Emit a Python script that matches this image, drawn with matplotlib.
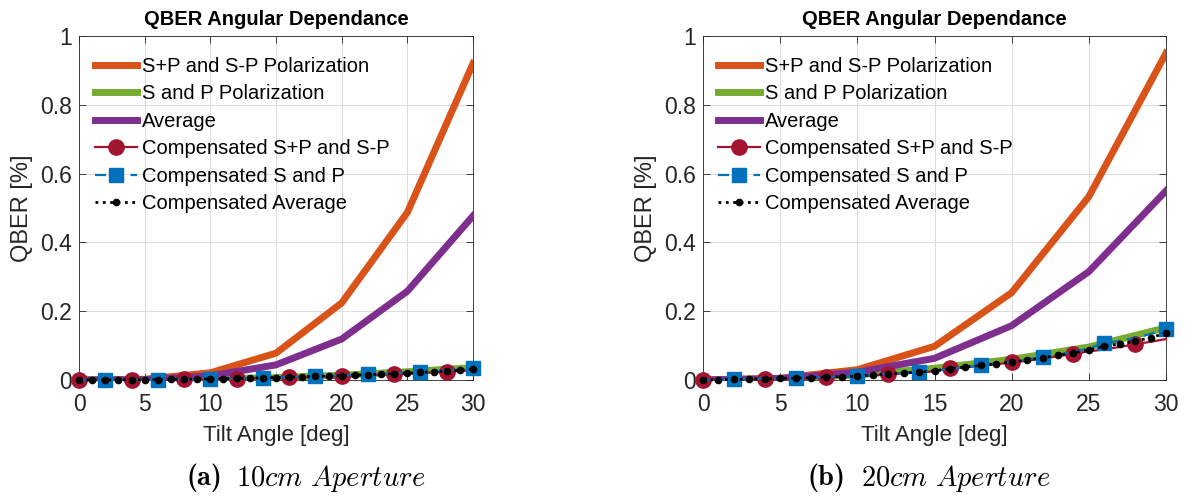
import os
import matplotlib
matplotlib.use("Agg")
import matplotlib.pyplot as plt
from matplotlib.font_manager import FontProperties

plt.rcParams['font.family'] = ['Liberation Sans', 'DejaVu Sans']
plt.rcParams['mathtext.fontset'] = 'cm'

# ---- data ----
angles = [0, 5, 10, 15, 20, 25, 30]
comp_angles = list(range(0, 31))

# (a) 10cm aperture
a_sp_sm = [0.0, 0.002, 0.021, 0.078, 0.224, 0.487, 0.92]
a_s_p = [0.0, 0.0006, 0.003, 0.007, 0.014, 0.024, 0.036]
a_avg = [0.0, 0.0012, 0.012, 0.044, 0.119, 0.258, 0.477]
a_comp_sp_sm = [0.0, 0.0001, 0.0002, 0.0003, 0.0005, 0.0008, 0.0011, 0.0015, 0.002, 0.0025,
                0.003, 0.0036, 0.0043, 0.005, 0.0058, 0.0066, 0.0075, 0.0085, 0.0095, 0.0106,
                0.0118, 0.013, 0.0143, 0.0157, 0.0172, 0.0188, 0.0205, 0.0222, 0.024, 0.0262, 0.0285]
a_comp_s_p = [0.0, 0.0001, 0.0002, 0.0004, 0.0006, 0.0009, 0.0013, 0.0017, 0.0022, 0.0028,
              0.0034, 0.0041, 0.0049, 0.0057, 0.0066, 0.0076, 0.0087, 0.0098, 0.011, 0.0123,
              0.0137, 0.0152, 0.0167, 0.0183, 0.02, 0.0218, 0.0237, 0.0257, 0.0278, 0.0305, 0.0345]
a_comp_avg = [0.0, 0.0001, 0.0002, 0.0004, 0.0006, 0.0009, 0.0012, 0.0016, 0.0021, 0.0027,
              0.0033, 0.0039, 0.0046, 0.0054, 0.0062, 0.0071, 0.0081, 0.0092, 0.0103, 0.0115,
              0.0128, 0.0141, 0.0155, 0.017, 0.0186, 0.0203, 0.0221, 0.024, 0.026, 0.0284, 0.0315]

# (b) 20cm aperture
b_sp_sm = [0.0, 0.005, 0.03, 0.098, 0.254, 0.533, 0.95]
b_s_p = [0.0, 0.003, 0.015, 0.034, 0.06, 0.096, 0.152]
b_avg = [0.0, 0.004, 0.023, 0.063, 0.158, 0.315, 0.55]
b_comp_sp_sm = [0.0, 0.0005, 0.001, 0.002, 0.003, 0.004, 0.005, 0.0065, 0.008, 0.0095,
                0.011, 0.0135, 0.017, 0.0195, 0.022, 0.025, 0.034, 0.0375, 0.041, 0.046,
                0.051, 0.056, 0.062, 0.069, 0.076, 0.083, 0.089, 0.096, 0.104, 0.111, 0.119]
b_comp_s_p = [0.0, 0.001, 0.002, 0.003, 0.004, 0.005, 0.006, 0.008, 0.009, 0.0105,
              0.012, 0.015, 0.018, 0.021, 0.024, 0.028, 0.032, 0.037, 0.044, 0.048,
              0.053, 0.06, 0.068, 0.074, 0.082, 0.092, 0.107, 0.114, 0.122, 0.134, 0.149]
b_comp_avg = [0.0, 0.0008, 0.0015, 0.0025, 0.0035, 0.0045, 0.0055, 0.007, 0.0085, 0.01,
              0.0115, 0.014, 0.0175, 0.0205, 0.023, 0.0265, 0.033, 0.037, 0.0425, 0.047,
              0.052, 0.058, 0.065, 0.0715, 0.079, 0.087, 0.098, 0.105, 0.113, 0.123, 0.136]

labels = ["S+P and S-P Polarization", "S and P Polarization", "Average",
          "Compensated S+P and S-P", "Compensated S and P", "Compensated Average"]
xticks = [0, 5, 10, 15, 20, 25, 30]
yticks = [0, 0.2, 0.4, 0.6, 0.8, 1.0]
yticklabels = ["0", "0.2", "0.4", "0.6", "0.8", "1"]

ORANGE = "#D95319"; GREEN = "#77AC30"; PURPLE = "#7E2F8E"
RED = "#A2142F"; BLUE = "#0072BD"; AXC = "#262626"

W, H = 1185, 498
fig = plt.figure(figsize=(W / 100, H / 100), dpi=100)

cmb = FontProperties(fname=os.path.join(matplotlib.get_data_path(), "fonts", "ttf", "cmb10.ttf"),
                     size=20.5)


def px(x, y):
    return (x / W, 1 - y / H)


def panel(rect, sp, s, av, csp, cs, cav, leg_xy, cap_b_right, cap_it_left, cap_bold, cap_it):
    l, r, t, b = rect
    ax = fig.add_axes([l / W, 1 - b / H, (r - l) / W, (b - t) / H])
    ax.plot(angles, sp, color=ORANGE, lw=5, label=labels[0], zorder=2)
    ax.plot(angles, s, color=GREEN, lw=5, label=labels[1], zorder=2)
    ax.plot(angles, av, color=PURPLE, lw=5, label=labels[2], zorder=2)
    ax.plot(comp_angles, csp, color=RED, lw=1.6, marker='o', ms=11,
            markevery=(0, 4), label=labels[3], zorder=3, clip_on=False)
    ax.plot(comp_angles, cs, color=BLUE, lw=1.6, ls='--', dashes=(5, 3), marker='s', ms=10,
            markevery=(2, 4), label=labels[4], zorder=4, clip_on=False)
    ax.plot(comp_angles, cav, color='black', lw=2.0, ls=':', marker='.', ms=9,
            label=labels[5], zorder=5, clip_on=False)
    ax.set_xlim(0, 30)
    ax.set_ylim(0, 1)
    ax.set_xticks(xticks)
    ax.set_yticks(yticks)
    ax.set_yticklabels(yticklabels)
    ax.tick_params(direction='in', labelsize=16.5, colors=AXC, length=5, width=0.6,
                   top=True, right=True)
    ax.tick_params(axis='x', pad=9)
    ax.tick_params(axis='y', pad=5)
    for sp_ in ax.spines.values():
        sp_.set_color(AXC)
        sp_.set_linewidth(0.6)
    ax.grid(True, color='#dcdcdc', lw=0.7)
    ax.set_axisbelow(True)
    ax.set_xlabel("Tilt Angle [deg]", fontsize=16, color=AXC, labelpad=7)
    ax.set_ylabel("QBER [%]", fontsize=17, color=AXC, labelpad=5)
    ax.set_title("QBER Angular Dependance", fontsize=14.5, fontweight='bold', pad=8)
    ax.legend(loc='upper left', frameon=False, fontsize=14.5, handlelength=2.1,
              handletextpad=0.25, labelspacing=0.42, borderaxespad=0, borderpad=0,
              bbox_to_anchor=px(*leg_xy), bbox_transform=fig.transFigure)
    fig.text(*px(cap_b_right, 478), "(" + cap_bold + ")", fontproperties=cmb,
             ha='right', va='center')
    fig.text(*px(cap_it_left, 478), r"$\mathit{" + cap_it + r"}$",
             ha='left', va='center', fontsize=20.5)
    return ax


panel((79, 473, 36, 380), a_sp_sm, a_s_p, a_avg, a_comp_sp_sm, a_comp_s_p, a_comp_avg,
      (95, 57), 222, 236, "a", r"10cm\ Aperture")
panel((703, 1166, 36, 380), b_sp_sm, b_s_p, b_avg, b_comp_sp_sm, b_comp_s_p, b_comp_avg,
      (718, 57), 846, 861, "b", r"20cm\ Aperture")

fig.savefig("out.png", dpi=100)
